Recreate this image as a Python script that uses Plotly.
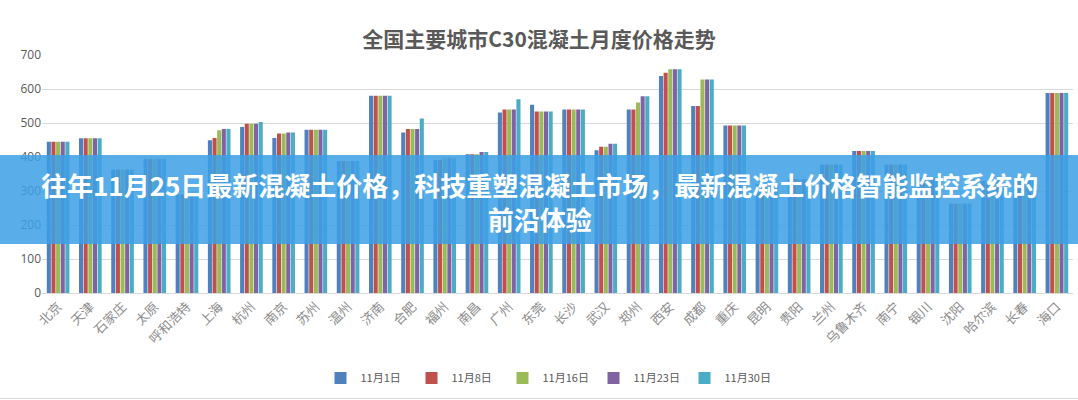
import plotly.graph_objects as go

cities = ["北京", "天津", "石家庄", "太原", "呼和浩特", "上海", "杭州", "南京", "苏州", "温州",
          "济南", "合肥", "福州", "南昌", "广州", "东莞", "长沙", "武汉", "郑州", "西安",
          "成都", "重庆", "昆明", "贵阳", "兰州", "乌鲁木齐", "南宁", "银川", "沈阳", "哈尔滨",
          "长春", "海口"]

series_names = ["11月1日", "11月8日", "11月16日", "11月23日", "11月30日"]

nov01 = [445, 455, 363, 395, 290, 449, 488, 456, 480, 388, 580, 472, 392, 408, 531, 554, 540, 420, 540, 638, 550, 493, 320, 335, 378, 418, 378, 340, 263, 330, 330, 588]
nov08 = [445, 455, 363, 395, 290, 456, 498, 469, 480, 388, 580, 482, 392, 408, 540, 534, 540, 430, 540, 648, 550, 493, 320, 335, 378, 418, 378, 340, 263, 330, 330, 588]
nov16 = [445, 455, 363, 395, 290, 479, 498, 469, 480, 388, 580, 482, 396, 408, 540, 534, 540, 430, 560, 658, 628, 493, 320, 335, 378, 418, 378, 340, 263, 330, 330, 588]
nov23 = [445, 455, 363, 395, 290, 482, 498, 472, 480, 388, 580, 482, 396, 415, 540, 534, 540, 439, 579, 658, 628, 493, 320, 335, 378, 418, 378, 340, 263, 330, 330, 588]
nov30 = [445, 455, 363, 395, 290, 482, 503, 472, 480, 388, 580, 513, 396, 415, 570, 534, 540, 439, 579, 658, 628, 493, 320, 335, 378, 418, 378, 340, 263, 330, 330, 588]

series_values = [nov01, nov08, nov16, nov23, nov30]
colors = ["#4F81BD", "#C0504D", "#9BBB59", "#8064A2", "#4BACC6"]

y_ticks = [0, 100, 200, 300, 400, 500, 600, 700]

chart_title = "全国主要城市C30混凝土月度价格走势"
banner_text = "往年11月25日最新混凝土价格，科技重塑混凝土市场，最新混凝土价格智能监控系统的<br>前沿体验"

W, H = 1078, 400
ml, mr, mt, mb = 42, 5, 55, 107
ph = H - mt - mb

fig = go.Figure()
for name, vals, col in zip(series_names, series_values, colors):
    fig.add_trace(go.Bar(name=name, x=cities, y=vals, marker_color=col,
                         marker_line_width=0))

font_main = "Noto Sans CJK SC"

def py(pix):
    return (H - mb - pix) / ph

def px(pix):
    return (pix - ml) / (W - ml - mr)

fig.update_layout(
    width=W, height=H,
    margin=dict(l=ml, r=mr, t=mt, b=mb),
    paper_bgcolor="white", plot_bgcolor="white",
    barmode="group", bargap=0.28, bargroupgap=0.12,
    title=dict(text=chart_title, x=0.5, xanchor="center", y=1 - 40 / H, yanchor="middle",
               font=dict(family=font_main, size=21, color="#595959", weight="bold")),
    font=dict(family=font_main, color="#595959"),
    showlegend=True,
    legend=dict(orientation="h", x=px(548), xanchor="center", y=py(378),
                yanchor="middle", yref="paper",
                font=dict(size=11, color="#595959"), itemwidth=30,
                entrywidth=46, entrywidthmode="pixels",
                traceorder="normal"),
    xaxis=dict(tickangle=-45, tickfont=dict(size=13, color="#8c8c8c", family=font_main),
               showline=True, linecolor="#d9d9d9", linewidth=1, ticks=""),
    yaxis=dict(range=[0, 700], tickvals=y_ticks, showgrid=True, gridcolor="#d9d9d9",
               tickfont=dict(size=12, color="#595959", family="Open Sans"),
               zeroline=False, ticks="", ticklen=0),
)

fig.add_shape(type="rect", xref="paper", yref="paper",
              x0=px(0), x1=px(W), y0=py(244), y1=py(155),
              fillcolor="rgba(60,160,230,0.85)", line_width=0, layer="above")
fig.add_shape(type="line", xref="paper", yref="paper",
              x0=px(0), x1=px(W), y0=py(398.5), y1=py(398.5),
              line=dict(color="#d9d9d9", width=1), layer="above")
fig.add_annotation(text=banner_text, xref="paper", yref="paper", x=px(539), y=py(201),
                   showarrow=False, xanchor="center", yanchor="middle", align="center",
                   font=dict(family=font_main, size=26, color="white", weight="bold"))

fig.write_html("out.html", config={"displayModeBar": False},
               post_script="document.body.style.margin='0';")
